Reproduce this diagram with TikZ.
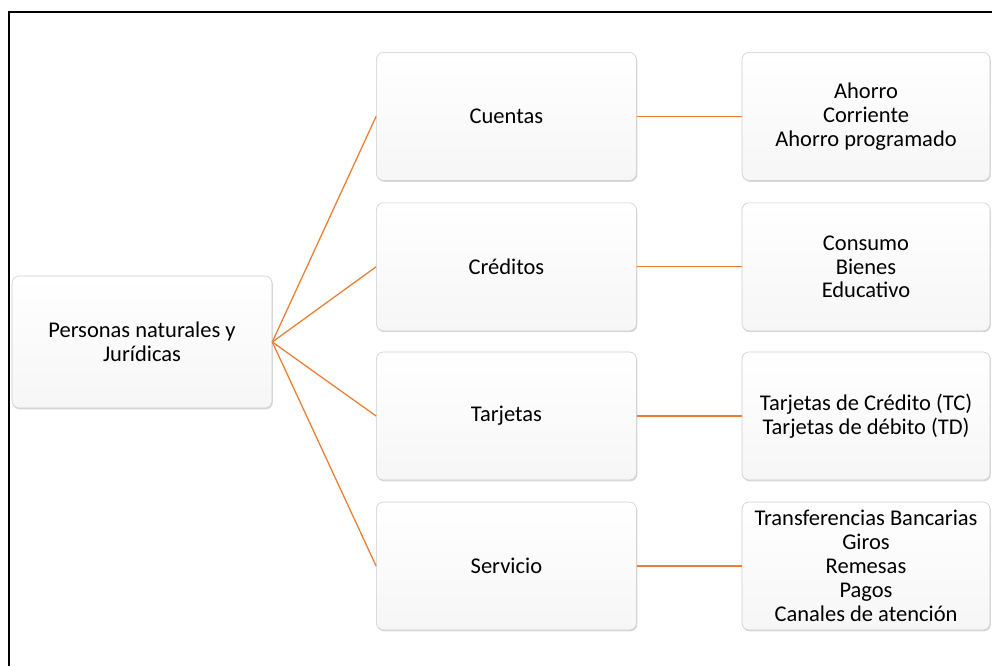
\documentclass[tikz,border=0pt]{standalone}
\usepackage{fontspec}
\setmainfont{Carlito}
\usetikzlibrary{shadows}

\definecolor{linkorange}{RGB}{237,125,49}

\begin{document}
\begin{tikzpicture}[
  rootbox/.style={rectangle, rounded corners=5pt, draw=gray!40, top color=white, bottom color=gray!7,
                  drop shadow={opacity=0.3, shadow xshift=0.6pt, shadow yshift=-1pt},
                  minimum width=6.5cm, minimum height=3.3cm, align=center,
                  font=\fontsize{16}{17}\selectfont},
  groupbox/.style={rootbox, minimum width=6.5cm, minimum height=3.2cm},
  itembox/.style={rootbox, minimum width=6.2cm, minimum height=3.2cm},
  link/.style={draw=linkorange, line width=0.9pt}
]
  \useasboundingbox (0,0) rectangle (24.8,16.65);
  % frame, left and top edges only
  \draw[line width=1.4pt] (0.225,0) -- (0.225,16.35) -- (24.8,16.35);

  \node[rootbox] (personas) at (3.55, 8.1) {Personas naturales y\\Jurídicas};

  \node[groupbox] (cuentas)   at (12.66, 13.74) {Cuentas};
  \node[groupbox] (creditos)  at (12.66, 9.98)  {Créditos};
  \node[groupbox] (tarjetas)  at (12.66, 6.25)  {Tarjetas};
  \node[groupbox] (servicio)  at (12.66, 2.5)   {Servicio};

  \node[itembox] (tiposcuenta)   at (21.65, 13.74) {Ahorro\\Corriente\\Ahorro programado};
  \node[itembox] (tiposcredito)  at (21.65, 9.98)  {Consumo\\Bienes\\Educativo};
  \node[itembox] (tipostarjeta)  at (21.65, 6.25)  {Tarjetas de Crédito (TC)\\Tarjetas de débito (TD)};
  \node[itembox] (tiposservicio) at (21.65, 2.5)   {Transferencias Bancarias\\Giros\\Remesas\\Pagos\\Canales de atención};

  \draw[link] (personas.east) -- (cuentas.west);
  \draw[link] (personas.east) -- (creditos.west);
  \draw[link] (personas.east) -- (tarjetas.west);
  \draw[link] (personas.east) -- (servicio.west);

  \draw[link] (cuentas) -- (tiposcuenta);
  \draw[link] (creditos) -- (tiposcredito);
  \draw[link] (tarjetas) -- (tipostarjeta);
  \draw[link] (servicio) -- (tiposservicio);
\end{tikzpicture}
\end{document}
